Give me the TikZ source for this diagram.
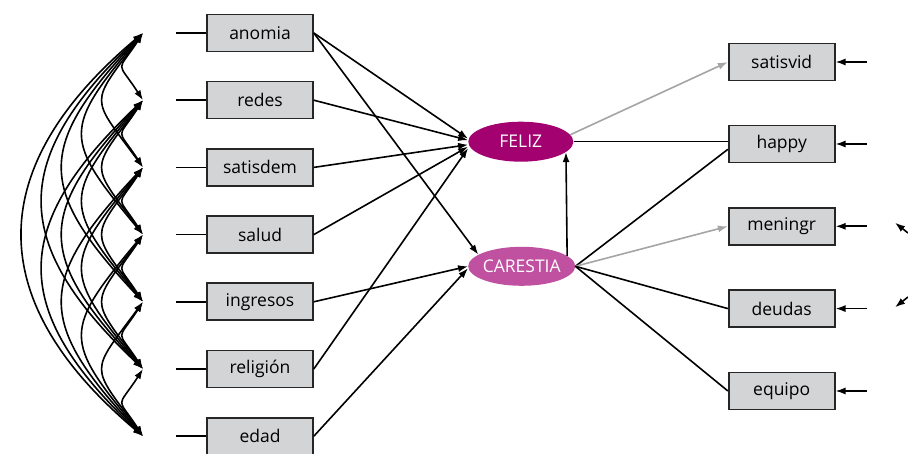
\documentclass[tikz,border=0pt]{standalone}
\usepackage{fontspec}
\setmainfont{Open Sans}
\usetikzlibrary{arrows.meta,shapes.geometric}
\definecolor{felizc}{RGB}{163,0,112}
\definecolor{carc}{RGB}{192,80,160}
\definecolor{boxc}{RGB}{211,212,214}
\definecolor{grayarr}{RGB}{165,165,165}
\tikzset{
  obs/.style={draw=black!85,fill=boxc,line width=1.6pt,minimum width=106pt,minimum height=37pt,inner sep=0pt,font=\fontsize{17.5}{20}\selectfont},
  lat/.style={ellipse,inner sep=0pt,text=white,font=\fontsize{17.5}{20}\selectfont},
  conn/.style={line width=1.6pt,black},
  arr/.style={conn,-{Latex[length=10pt,width=7pt]}},
  garr/.style={line width=1.6pt,grayarr,-{Latex[length=10pt,width=7pt]}},
  cov/.style={line width=1.6pt,black,{Latex[length=10pt,width=7pt]}-{Latex[length=10pt,width=7pt]}}
}
\begin{document}
\begin{tikzpicture}[x=1pt,y=1pt]
\fill[white] (0,0) rectangle (908,453);
\useasboundingbox (0,0) rectangle (908,453);
% left observed
\node[obs] (anomia)   at (260,420)   {anomia};
\node[obs] (redes)    at (260,352.8) {redes};
\node[obs] (satisdem) at (260,285.6) {satisdem};
\node[obs] (salud)    at (260,218.4) {salud};
\node[obs] (ingresos) at (260,151.2) {ingresos};
\node[obs] (religion) at (260,84)    {religión};
\node[obs] (edad)     at (260,16.8)  {edad};
% right observed
\node[obs] (satisvid) at (781.7,391)   {satisvid};
\node[obs] (happy)    at (781.7,309)   {happy};
\node[obs] (meningr)  at (781.7,226.7) {meningr};
\node[obs] (deudas)   at (781.7,144.4) {deudas};
\node[obs] (equipo)   at (781.7,62)    {equipo};
% latent
\node[lat,fill=felizc,minimum width=105pt,minimum height=40pt] (FELIZ) at (520.8,311.3) {\makebox[0pt]{FELIZ}};
\node[lat,fill=carc,minimum width=107pt,minimum height=39pt] (CARESTIA) at (521.7,186.7) {\makebox[0pt]{CARESTIA}};
% stubs and covariance points
\foreach \n/\y [count=\k] in {anomia/420,redes/352.8,satisdem/285.6,salud/218.4,ingresos/151.2,religion/84,edad/16.8}{
  \coordinate (s\k) at (176,\y);
  \coordinate (c\k) at (143,\y);
  \draw[conn] (s\k) -- (\n.west);
}
\foreach \i in {1,...,6}{
  \pgfmathtruncatemacro\ii{\i+1}
  \foreach \j in {\ii,...,7}{
    \pgfmathsetmacro\th{33+3.4*(\j-\i-1)}
    \pgfmathsetmacro\lo{1.02/sin(\th)}
    \pgfmathsetmacro\ou{270-\th}
    \pgfmathsetmacro\inn{90+\th}
    \draw[cov] (c\i) to[out=\ou,in=\inn,looseness=\lo] (c\j);
  }
}
% regressions
\draw[arr] (anomia.east) -- ([yshift=3pt]FELIZ.west);
\draw[arr] (redes.east) -- ([yshift=1.5pt]FELIZ.west);
\draw[arr] (satisdem.east) -- ([yshift=-3pt]FELIZ.west);
\draw[arr] (salud.east) -- ([yshift=-5pt]FELIZ.west);
\draw[arr] (religion.east) -- ([yshift=-6.5pt]FELIZ.west);
\draw[arr] (anomia.east) -- (CARESTIA.165);
\draw[arr] (ingresos.east) -- (CARESTIA.west);
\draw[arr] (edad.east) -- ([yshift=-2pt]CARESTIA.west);
\draw[arr] (CARESTIA.13) -- (FELIZ.347);
% loadings
\draw[garr] (FELIZ.8) -- (satisvid.west);
\draw[conn] (FELIZ.east) -- (FELIZ.east -| happy.west);
\draw[conn] (CARESTIA.east) -- ([yshift=-5.3pt]happy.west);
\draw[garr] (CARESTIA.east) -- (meningr.west);
\draw[conn] (CARESTIA.east) -- (deudas.west);
\draw[conn] (CARESTIA.east) -- (equipo.west);
% errors
\foreach \n in {satisvid,happy,meningr,deudas,equipo}{
  \coordinate (e\n) at ([xshift=31pt]\n.east);
  \draw[arr] (e\n) -- (\n.east);
}
% partial error covariance
\coordinate (ra) at (908,220);
\coordinate (rb) at (895,230.3);
\coordinate (rc) at (908,156);
\coordinate (rd) at (895,145.7);
\draw[arr] (ra) -- (rb);
\draw[arr] (rc) -- (rd);
\end{tikzpicture}
\end{document}
